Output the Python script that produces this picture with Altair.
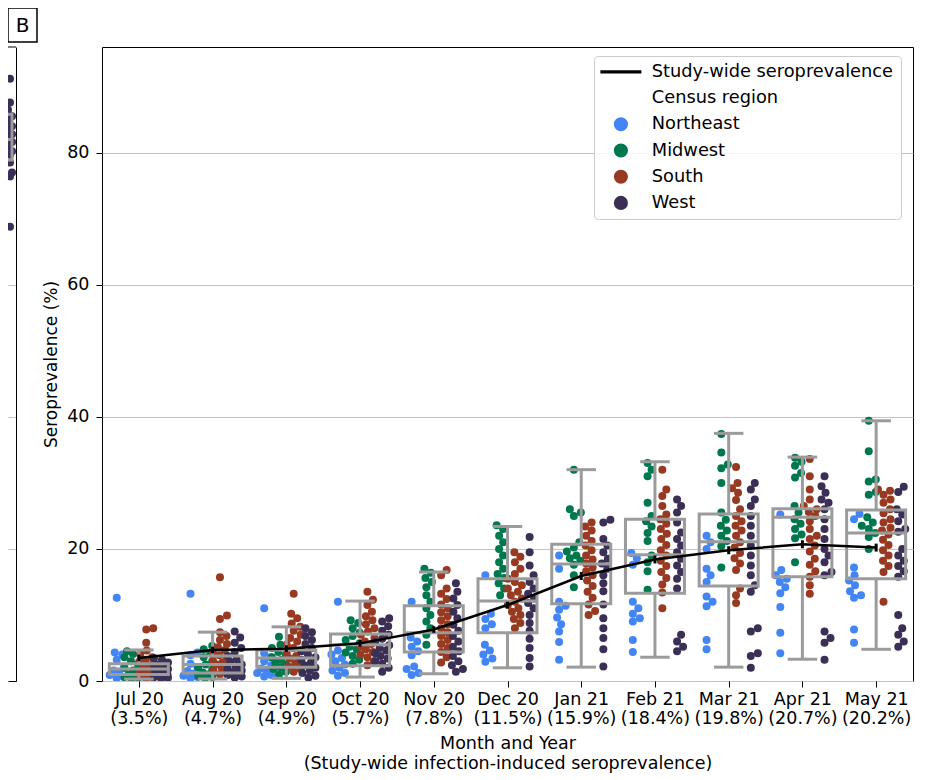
import altair as alt
import pandas as pd

# ---------------- data ----------------
months = ["Jul 20", "Aug 20", "Sep 20", "Oct 20", "Nov 20", "Dec 20",
          "Jan 21", "Feb 21", "Mar 21", "Apr 21", "May 21"]
study_wide = [3.5, 4.7, 4.9, 5.7, 7.8, 11.5, 15.9, 18.4, 19.8, 20.7, 20.2]
study_lo = [3.0, 4.2, 4.4, 5.2, 7.3, 11.0, 15.3, 17.8, 19.2, 20.1, 19.6]
study_hi = [4.0, 5.2, 5.4, 6.2, 8.3, 12.0, 16.5, 19.0, 20.4, 21.3, 20.8]

regions = ["Northeast", "Midwest", "South", "West"]
region_colors = ["#4385f4", "#00784e", "#983a22", "#3b2f56"]

northeast = [
    [12.6, 4.3, 4.0, 3.2, 2.0, 1.6, 1.2, 0.9, 0.6, 0.4],
    [13.2, 4.3, 3.9, 2.6, 2.0, 1.5, 1.1, 0.8, 0.6, 0.4],
    [11.0, 4.2, 3.6, 3.0, 2.4, 1.9, 1.5, 1.2, 0.9, 0.7],
    [12.0, 4.6, 4.0, 3.5, 3.0, 2.5, 2.0, 1.6, 1.2, 0.8],
    [12.0, 6.6, 6.0, 5.2, 4.5, 3.9, 2.2, 1.8, 1.2, 0.9],
    [16.0, 10.2, 9.4, 8.6, 8.0, 5.5, 4.6, 4.0, 3.4, 2.9],
    [19.0, 17.0, 12.0, 11.4, 10.8, 9.6, 8.6, 7.5, 5.9, 3.2],
    [19.4, 18.6, 17.6, 12.0, 11.0, 10.2, 9.5, 9.0, 6.2, 4.4],
    [22.0, 21.0, 20.0, 17.0, 16.0, 15.0, 12.8, 12.0, 11.3, 6.2, 4.8],
    [25.2, 16.8, 16.0, 15.5, 15.0, 14.2, 13.3, 11.2, 7.3, 4.2],
    [25.3, 24.5, 17.2, 16.0, 15.2, 14.5, 13.6, 13.0, 12.6, 7.8, 5.8],
]
midwest = [
    [4.5, 4.1, 3.6, 3.0, 2.5, 2.0, 1.6, 1.3, 1.0, 0.8, 0.6, 0.5, 0.4],
    [5.3, 4.8, 4.2, 3.6, 3.0, 2.5, 2.1, 1.7, 1.3, 1.0, 0.8, 0.6, 0.5],
    [6.7, 5.5, 5.0, 4.4, 4.0, 3.6, 3.2, 2.8, 2.5, 2.1, 1.8, 1.4, 1.0],
    [9.2, 8.8, 8.0, 7.3, 6.8, 6.2, 5.7, 5.2, 4.8, 4.3, 3.8, 3.2, 2.6],
    [17.0, 16.4, 15.6, 15.0, 14.2, 13.0, 12.0, 11.0, 10.0, 9.0, 8.0, 7.0, 5.5],
    [23.6, 23.0, 22.0, 21.0, 20.0, 19.0, 18.0, 17.0, 16.2, 15.6, 14.8, 14.0, 13.0],
    [32.0, 26.0, 25.5, 25.0, 21.0, 20.2, 19.6, 19.0, 18.6, 18.2, 17.6, 16.0, 14.2],
    [33.0, 32.0, 31.0, 27.0, 25.0, 24.2, 23.4, 22.4, 21.2, 19.0, 18.0, 16.6, 13.8],
    [37.4, 34.6, 32.8, 32.2, 30.0, 25.5, 24.4, 23.5, 22.8, 22.0, 21.2, 20.4, 17.2],
    [33.8, 33.2, 32.6, 31.5, 30.8, 26.5, 25.5, 24.5, 23.8, 23.0, 22.2, 21.6, 18.0],
    [39.4, 34.8, 30.5, 30.2, 28.6, 28.2, 24.8, 24.0, 23.5, 23.0, 22.4, 21.8, 20.0],
]
south = [
    [8.0, 7.8, 5.8, 4.6, 4.0, 3.6, 3.2, 2.9, 2.6, 2.3, 2.0, 1.8, 1.6, 1.4, 1.2, 1.0, 0.9, 0.7, 0.5, 0.4],
    [15.7, 9.9, 9.4, 7.4, 6.8, 6.2, 5.6, 5.1, 4.7, 4.3, 3.9, 3.5, 3.1, 2.8, 2.5, 2.2, 1.9, 1.6, 1.3, 1.0],
    [13.2, 10.2, 9.5, 8.7, 8.2, 7.6, 7.0, 6.5, 6.0, 5.5, 5.0, 4.6, 4.2, 3.8, 3.4, 3.0, 2.6, 2.2, 1.8, 1.4],
    [13.5, 12.3, 11.5, 10.5, 9.8, 9.2, 8.6, 8.0, 7.5, 7.0, 6.5, 6.0, 5.6, 5.2, 4.8, 4.4, 4.0, 3.6, 3.0, 2.4],
    [16.8, 16.0, 14.0, 13.2, 12.4, 11.6, 11.0, 10.4, 9.8, 9.2, 8.6, 8.0, 7.4, 6.8, 6.2, 5.6, 5.0, 4.4, 3.6, 2.8],
    [19.5, 18.8, 18.0, 17.0, 16.2, 15.5, 15.0, 14.5, 14.0, 13.5, 13.0, 12.5, 12.0, 11.5, 11.0, 10.5, 10.0, 9.4, 8.8, 8.0],
    [24.0, 23.4, 22.8, 22.0, 21.2, 20.5, 19.8, 19.0, 18.4, 17.8, 17.2, 16.6, 16.0, 15.2, 14.4, 13.5, 12.6, 11.6, 10.6, 10.0],
    [32.0, 29.0, 28.0, 26.5, 25.2, 24.5, 23.8, 23.0, 22.3, 21.5, 20.6, 19.8, 19.0, 18.2, 17.4, 16.5, 15.6, 14.6, 13.4, 11.0],
    [32.4, 30.0, 29.2, 28.5, 27.4, 26.0, 25.0, 24.2, 23.5, 22.8, 22.0, 21.0, 20.2, 19.4, 18.6, 17.8, 16.8, 14.0, 13.0, 11.8],
    [33.6, 31.0, 29.0, 27.5, 26.5, 26.0, 25.6, 25.0, 24.2, 23.0, 22.0, 21.5, 20.5, 19.6, 18.5, 17.6, 16.6, 15.8, 14.5, 13.2],
    [29.0, 28.8, 28.2, 27.5, 27.0, 26.0, 25.4, 24.5, 24.0, 23.2, 22.8, 22.2, 21.4, 20.6, 19.8, 19.0, 18.2, 17.4, 16.5, 12.0],
]
west = [
    [3.5, 3.2, 2.8, 2.5, 2.2, 2.0, 1.8, 1.6, 1.4, 1.2, 1.0, 0.9, 0.8, 0.7, 0.6, 0.5, 0.4],
    [7.5, 6.6, 5.8, 5.0, 4.4, 3.8, 3.3, 2.9, 2.5, 2.2, 1.9, 1.6, 1.3, 1.1, 0.9, 0.7, 0.5],
    [8.0, 7.4, 6.8, 6.2, 5.6, 5.0, 4.5, 4.0, 3.6, 3.2, 2.8, 2.4, 2.0, 1.6, 1.2, 0.8, 0.5],
    [9.5, 9.0, 8.3, 7.6, 7.0, 6.4, 5.9, 5.4, 5.0, 4.6, 4.2, 3.8, 3.4, 3.0, 2.6, 2.0, 1.4],
    [14.8, 13.5, 12.5, 11.5, 10.5, 9.5, 8.5, 7.6, 6.8, 6.0, 5.2, 4.5, 3.8, 3.0, 2.4, 1.8, 1.4],
    [21.8, 19.5, 17.5, 16.0, 15.0, 14.0, 13.2, 12.5, 11.8, 11.0, 10.0, 8.8, 7.6, 6.4, 5.0, 3.5, 2.2],
    [24.4, 24.0, 21.5, 20.5, 19.5, 18.5, 17.8, 17.0, 16.0, 14.8, 13.6, 11.6, 9.5, 8.0, 6.5, 4.8, 2.2],
    [27.5, 26.5, 25.5, 24.0, 22.5, 21.5, 20.5, 19.5, 18.5, 17.5, 16.5, 15.5, 14.0, 7.0, 6.0, 5.2, 4.5],
    [30.0, 29.0, 27.5, 26.5, 25.0, 23.5, 22.0, 20.5, 19.0, 17.5, 16.0, 14.5, 13.5, 8.0, 7.5, 4.2, 3.8, 2.0],
    [31.0, 29.5, 28.5, 27.5, 27.0, 26.0, 24.5, 23.0, 21.5, 20.0, 19.0, 18.0, 16.5, 16.0, 7.5, 6.5, 5.8, 3.2],
    [29.4, 28.6, 26.0, 25.2, 24.2, 23.0, 22.6, 20.0, 19.0, 18.2, 17.4, 16.6, 15.8, 10.0, 8.0, 7.0, 6.0, 5.2],
]

box_lower = [0.3, 0.3, 0.4, 0.6, 1.1, 2.0, 2.1, 3.6, 2.1, 3.3, 4.8]
box_q1 = [1.0, 1.2, 2.1, 2.3, 4.4, 7.3, 11.7, 13.3, 14.4, 15.8, 15.5]
box_median = [1.8, 2.5, 3.5, 5.5, 7.3, 12.1, 17.7, 19.1, 21.1, 24.8, 22.4]
box_q3 = [2.6, 3.8, 4.7, 7.1, 11.4, 15.5, 20.7, 24.5, 25.3, 26.1, 25.9]
box_upper = [4.7, 7.4, 8.2, 12.1, 16.5, 23.4, 32.0, 33.2, 37.5, 33.9, 39.4]

# fragment of the neighbouring panel A (its last month, West region)
panel_a_west_may = [91.2, 87.6, 86.5, 85.5, 84.8, 84.0, 83.5, 82.8, 82.4, 81.6,
                    81.0, 80.2, 79.7, 78.5, 77.0, 76.4, 68.8]
panel_a_box_may = {"q1": 78.9, "median": 82.0, "q3": 85.8}

# ---------------- layout helpers ----------------
PLOT_W, PLOT_H = 811, 634
Y_MAX = 96
SX = PLOT_W / 11.0
SY = PLOT_H / Y_MAX
GREY = "#9b9b9b"
FONT = "DejaVu Sans"
region_offset = {"Northeast": -0.3, "Midwest": -0.1, "South": 0.1, "West": 0.3}


def swarm_offsets(vals, sx, diam=7.5, limit=7.0):
    order = sorted(range(len(vals)), key=lambda i: vals[i])
    steps = [0.0]
    k = 1
    while k * 0.5 <= limit:
        steps += [k * 0.5, -k * 0.5]
        k += 1
    placed = []
    offs = [0.0] * len(vals)
    for i in order:
        y = vals[i] * SY
        chosen = None
        best, bestd = 0.0, -1.0
        for c in steps:
            ds = [((c - px) ** 2 + (y - py) ** 2) ** 0.5 for px, py in placed]
            dmin = min(ds) if ds else 1e9
            if dmin >= diam:
                chosen = c
                break
            if dmin > bestd:
                bestd, best = dmin, c
        if chosen is None:
            chosen = best
        placed.append((chosen, y))
        offs[i] = chosen / sx
    return offs


rows = []
for reg, series in zip(regions, [northeast, midwest, south, west]):
    for m, vals in enumerate(series):
        offs = swarm_offsets(vals, SX)
        for v, o in zip(vals, offs):
            rows.append({"month": m, "region": reg, "value": v,
                         "xpos": m + region_offset[reg] + o})
pts_df = pd.DataFrame(rows)

box_df = pd.DataFrame({"month": list(range(11)), "lower": box_lower, "q1": box_q1,
                       "median": box_median, "q3": box_q3, "upper": box_upper})
line_df = pd.DataFrame({"month": list(range(11)), "study": study_wide,
                        "lo": study_lo, "hi": study_hi})

# ---------------- main panel ----------------
label_expr = "[" + ",".join(
    "['%s','(%s%%)']" % (m, v) for m, v in zip(months, study_wide)) + "][datum.value]"

xscale = alt.Scale(domain=[-0.5, 10.5], nice=False, zero=False)
yscale = alt.Scale(domain=[0, Y_MAX], nice=False, zero=False)

xaxis = alt.Axis(values=list(range(11)), labelExpr=label_expr, labelFont=FONT,
                 labelFontSize=17.5, labelColor="black", labelLineHeight=19,
                 labelPadding=3, labelOverlap=False, labelFlush=False,
                 tickSize=6, tickColor="black", tickWidth=1, domain=False, grid=False,
                 title=["Month and Year", "(Study-wide infection-induced seroprevalence)"],
                 titleFont=FONT, titleFontSize=17.5, titleFontWeight="normal",
                 titleColor="black", titlePadding=8, titleLineHeight=20)
yaxis = alt.Axis(values=[0, 20, 40, 60, 80], grid=True, gridColor="#c4c4c4", gridWidth=1,
                 labelFont=FONT, labelFontSize=17.5, labelColor="black", labelPadding=7,
                 tickSize=6, tickColor="black", tickWidth=1, domain=False,
                 title="Seroprevalence (%)", titleFont=FONT, titleFontSize=17,
                 titleFontWeight="normal", titleColor="black", titlePadding=6)


def X(f):
    return alt.X(f, scale=xscale, axis=xaxis)


def Y(f):
    return alt.Y(f, scale=yscale, axis=yaxis)


legend_domain = ["Study-wide seroprevalence", "Census region"] + regions
legend_colors = ["black", "transparent"] + region_colors
legend_shapes = ["M-2.9,-0.22H2.9V0.22H-2.9Z", "circle", "circle", "circle", "circle", "circle"]
legend = alt.Legend(title=None, orient="none", legendX=586, legendY=9,
                    labelFont=FONT, labelFontSize=17.8, labelColor="black",
                    labelLimit=400, symbolSize=200, symbolStrokeWidth=0,
                    symbolOffset=11, labelOffset=22, rowPadding=7.2, padding=7,
                    fillColor="rgba(255,255,255,0.8)", strokeColor="#cccccc",
                    cornerRadius=4)

points = alt.Chart(pts_df).mark_point(filled=True, size=64, opacity=1, clip=True).encode(
    x=X("xpos:Q"), y=Y("value:Q"),
    color=alt.Color("region:N", scale=alt.Scale(domain=legend_domain, range=legend_colors),
                    legend=legend),
    shape=alt.Shape("region:N", scale=alt.Scale(domain=legend_domain, range=legend_shapes),
                    legend=legend),
)

box_base = alt.Chart(box_df).transform_calculate(
    bl="datum.month - 0.4", br="datum.month + 0.4",
    cl="datum.month - 0.2", cr="datum.month + 0.2")
whisk_lo = box_base.mark_rule(color=GREY, strokeWidth=3).encode(
    x=X("month:Q"), y=Y("lower:Q"), y2="q1:Q")
whisk_hi = box_base.mark_rule(color=GREY, strokeWidth=3).encode(
    x=X("month:Q"), y=Y("q3:Q"), y2="upper:Q")
cap_lo = box_base.mark_rule(color=GREY, strokeWidth=3).encode(
    x=X("cl:Q"), x2="cr:Q", y=Y("lower:Q"))
cap_hi = box_base.mark_rule(color=GREY, strokeWidth=3).encode(
    x=X("cl:Q"), x2="cr:Q", y=Y("upper:Q"))
boxes = box_base.mark_rect(fill="transparent", stroke=GREY, strokeWidth=3).encode(
    x=X("bl:Q"), x2="br:Q", y=Y("q1:Q"), y2="q3:Q")
medians = box_base.mark_rule(color=GREY, strokeWidth=3).encode(
    x=X("bl:Q"), x2="br:Q", y=Y("median:Q"))

line = alt.Chart(line_df).mark_line(color="black", strokeWidth=2.5).encode(
    x=X("month:Q"), y=Y("study:Q"))
errbar = alt.Chart(line_df).mark_rule(color="black", strokeWidth=3).encode(
    x=X("month:Q"), y=Y("lo:Q"), y2="hi:Q")

main = alt.layer(points, whisk_lo, whisk_hi, cap_lo, cap_hi, boxes, medians,
                 line, errbar).properties(
    width=PLOT_W, height=PLOT_H,
    view=alt.ViewBackground(stroke="black", strokeWidth=1))

# ---------------- fragment of panel A on the left ----------------
a_offs = swarm_offsets(panel_a_west_may, 20.0, diam=7.5, limit=2.0)
a_df = pd.DataFrame({"value": panel_a_west_may,
                     "xpos": [10.3 + o for o in a_offs]})
a_box = pd.DataFrame({"month": [10], "q1": [panel_a_box_may["q1"]],
                      "median": [panel_a_box_may["median"]],
                      "q3": [panel_a_box_may["q3"]]})
ax_scale = alt.Scale(domain=[10.2, 10.6], nice=False, zero=False)
ax_axis = alt.Axis(labels=False, ticks=False, domain=True, domainColor="black",
                   grid=False, title=None)
ay_axis = alt.Axis(orient="right", values=[0, 20, 40, 60, 80], labels=False, ticks=False,
                   domain=True, domainColor="black", grid=True, gridColor="#c4c4c4",
                   title=None)

a_pts = alt.Chart(a_df).mark_point(filled=True, size=64, opacity=1, clip=True,
                                   color=region_colors[3]).encode(
    x=alt.X("xpos:Q", scale=ax_scale, axis=ax_axis),
    y=alt.Y("value:Q", scale=yscale, axis=ay_axis))
a_boxbase = alt.Chart(a_box).transform_calculate(bl="datum.month - 0.4", br="datum.month + 0.4")
a_rect = a_boxbase.mark_rect(fill="transparent", stroke=GREY, strokeWidth=3, clip=True).encode(
    x=alt.X("bl:Q", scale=ax_scale, axis=ax_axis), x2="br:Q",
    y=alt.Y("q1:Q", scale=yscale, axis=ay_axis), y2="q3:Q")
a_med = a_boxbase.mark_rule(color=GREY, strokeWidth=3, clip=True).encode(
    x=alt.X("bl:Q", scale=ax_scale, axis=ax_axis), x2="br:Q",
    y=alt.Y("median:Q", scale=yscale, axis=ay_axis))

one = pd.DataFrame({"k": [0]})
a_top = alt.Chart(one).mark_rule(color="black", strokeWidth=1).encode(
    x=alt.value(0), x2=alt.value(8), y=alt.value(0))
b_rect = alt.Chart(one).mark_rect(fill="white", stroke="black", strokeWidth=1.5).encode(
    x=alt.value(0), x2=alt.value(29), y=alt.value(-39), y2=alt.value(-5))
b_text = alt.Chart(one).mark_text(font=FONT, fontSize=20, color="black",
                                  align="center", baseline="alphabetic").encode(
    x=alt.value(14.5), y=alt.value(-15), text=alt.value("B"))

left = alt.layer(a_pts, a_rect, a_med, a_top, b_rect, b_text).properties(
    width=8, height=PLOT_H, view=alt.ViewBackground(stroke="transparent"))

chart = alt.hconcat(left, main, spacing=86, bounds="flush").properties(
    padding={"left": -2, "top": -2, "right": 5, "bottom": 0}
).configure(font=FONT)

chart.save("out.html", embed_options={"renderer": "svg", "actions": False})
